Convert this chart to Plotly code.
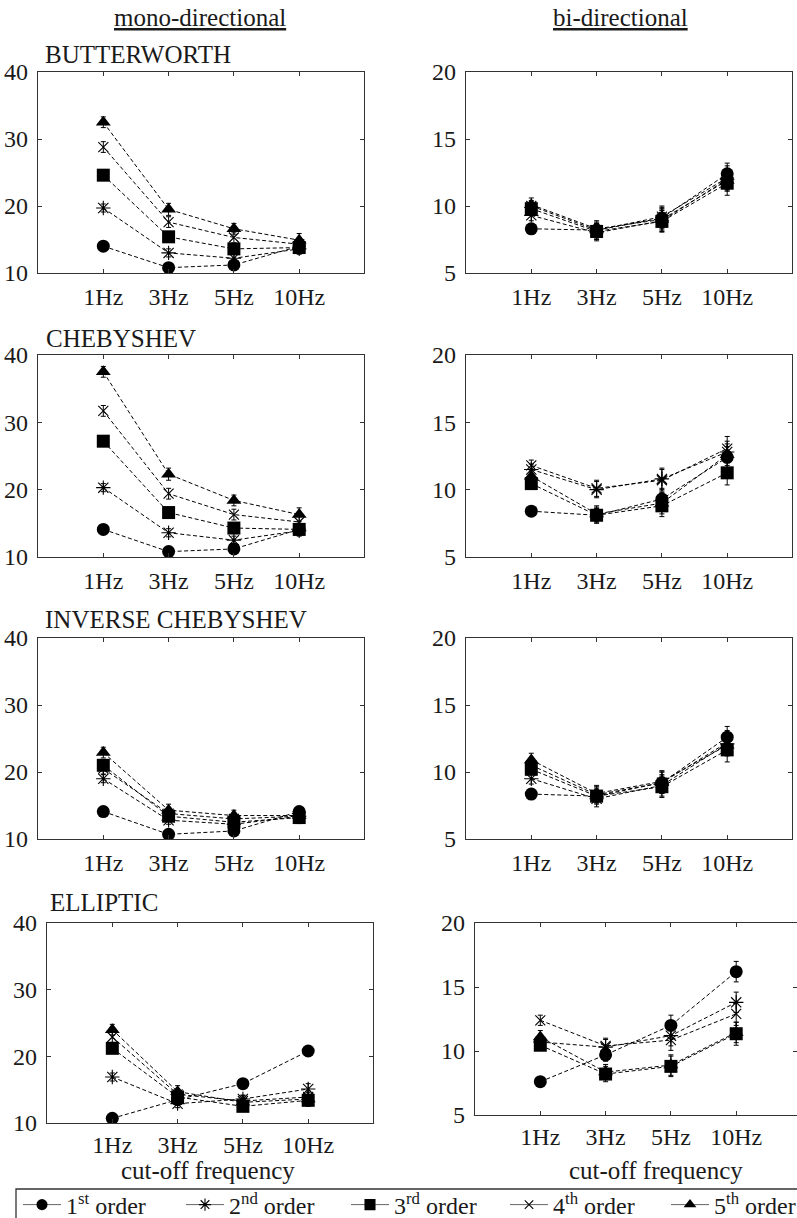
import plotly.graph_objects as go

W, H = 797, 1218
SERIF = "Liberation Serif"

FREQS = ["1Hz", "3Hz", "5Hz", "10Hz"]
ORDER_LABELS = ["1<sup>st</sup> order", "2<sup>nd</sup> order", "3<sup>rd</sup> order",
                "4<sup>th</sup> order", "5<sup>th</sup> order"]
FILTERS = ["BUTTERWORTH", "CHEBYSHEV", "INVERSE CHEBYSHEV", "ELLIPTIC"]

# Mean values: one row per filter order (1st..5th), one column per cut-off frequency
butterworth_mono = [
    [14.0, 10.8, 11.2, 14.0],
    [19.7, 13.0, 12.2, 13.6],
    [24.6, 15.4, 13.6, 13.8],
    [28.8, 17.6, 15.3, 14.3],
    [32.5, 19.5, 16.6, 14.9],
]
chebyshev_mono = [
    [14.1, 10.8, 11.2, 14.1],
    [20.3, 13.6, 12.5, 13.9],
    [27.2, 16.6, 14.3, 14.1],
    [31.7, 19.4, 16.3, 15.2],
    [37.5, 22.3, 18.4, 16.3],
]
inv_chebyshev_mono = [
    [14.1, 10.7, 11.2, 14.1],
    [19.0, 12.8, 12.2, 13.4],
    [21.0, 13.4, 12.5, 13.2],
    [20.5, 13.8, 13.0, 13.4],
    [22.9, 14.3, 13.5, 13.5],
]
elliptic_mono = [
    [10.7, 13.5, 15.9, 20.8],
    [16.9, 12.9, 13.6, 15.1],
    [21.2, 13.9, 12.5, 13.4],
    [22.9, 14.3, 13.3, 13.9],
    [24.0, 14.7, 13.1, 13.6],
]

butterworth_bi = [
    [8.3, 8.2, 9.1, 12.4],
    [9.3, 8.0, 8.9, 12.0],
    [9.8, 8.1, 8.85, 11.7],
    [10.0, 8.2, 9.2, 12.1],
    [10.1, 8.3, 9.0, 11.9],
]
chebyshev_bi = [
    [8.4, 8.1, 9.3, 12.4],
    [11.5, 10.0, 10.8, 12.8],
    [10.45, 8.1, 8.8, 11.25],
    [11.8, 10.1, 10.7, 13.05],
    [11.0, 8.2, 9.0, 12.6],
]
inv_chebyshev_bi = [
    [8.35, 8.2, 9.2, 12.6],
    [9.5, 8.0, 9.0, 12.1],
    [10.2, 8.2, 8.9, 11.65],
    [10.5, 8.3, 9.2, 12.2],
    [10.9, 8.4, 9.3, 12.0],
]
elliptic_bi = [
    [7.6, 9.7, 12.0, 16.2],
    [10.7, 10.3, 11.2, 13.8],
    [10.45, 8.2, 8.8, 11.35],
    [12.4, 10.4, 10.85, 12.9],
    [11.1, 8.35, 8.9, 11.45],
]

# Error bar half-lengths (same layout as the means)
mono_err = [
    [0.5, 0.5, 0.6, 0.7],
    [0.6, 0.6, 0.6, 0.8],
    [0.7, 0.7, 0.7, 0.9],
    [0.8, 0.8, 0.8, 0.9],
    [0.8, 0.9, 0.8, 1.0],
]
bi_err = [
    [0.3, 0.5, 0.8, 0.8],
    [0.4, 0.6, 0.8, 0.8],
    [0.4, 0.6, 0.8, 0.9],
    [0.4, 0.6, 0.8, 0.9],
    [0.5, 0.6, 0.8, 0.8],
]

MONO = [butterworth_mono, chebyshev_mono, inv_chebyshev_mono, elliptic_mono]
BI = [butterworth_bi, chebyshev_bi, inv_chebyshev_bi, elliptic_bi]

SYMBOLS = ["circle", "asterisk-open", "square", "x-thin-open", "triangle-up"]
SIZES = [13, 12, 13, 10, 13]

# Panel boxes in pixels: (left, right, top, bottom)
MONO_BOX = [(38, 364, 72, 273), (38, 364, 355, 557), (38, 364, 638, 839), (47, 373, 923, 1123)]
BI_BOX = [(466, 792, 72, 273), (466, 792, 355, 557), (466, 792, 638, 839), (475, 797, 923, 1115)]


def px_x(v):
    return v / W


def px_y(v):
    return 1 - v / H


def marker_for(k, size_scale=1.0):
    sym = SYMBOLS[k]
    open_sym = sym.endswith("open")
    return dict(symbol=sym, size=SIZES[k] * size_scale, color="black",
                line=dict(color="black", width=1.1 if open_sym else 0))


fig = go.Figure()
layout = {}
ax = 0
for row in range(4):
    for col, (data, box, yr, yt) in enumerate([
        (MONO[row], MONO_BOX[row], [10, 40], [10, 20, 30, 40]),
        (BI[row], BI_BOX[row], [5, 20], [5, 10, 15, 20]),
    ]):
        ax += 1
        xs = "x" if ax == 1 else f"x{ax}"
        ys = "y" if ax == 1 else f"y{ax}"
        err = mono_err if col == 0 else bi_err
        for k in range(5):
            fig.add_trace(go.Scatter(
                x=FREQS, y=data[k], mode="lines+markers",
                line=dict(color="black", width=1, dash="4px,2.5px"),
                marker=marker_for(k),
                error_y=dict(type="data", array=err[k], color="black",
                             thickness=1, width=2.5),
                xaxis=xs, yaxis=ys, showlegend=False, hoverinfo="skip",
            ))
        l, r, t, b = box
        span = (r - l) / 65.3
        axis_common = dict(
            showline=True, linecolor="#333", linewidth=1.3, mirror="ticks",
            ticks="inside", ticklen=4, tickwidth=1, tickcolor="#333",
            showgrid=False, zeroline=False,
            tickfont=dict(family=SERIF, size=24, color="#1a1a1a"),
        )
        layout["xaxis" if ax == 1 else f"xaxis{ax}"] = dict(
            axis_common, domain=[px_x(l), px_x(r)], anchor=ys,
            type="category", categoryorder="array", categoryarray=FREQS,
            range=[-1, -1 + span], ticklabelstandoff=0 if row == 3 else 2,
        )
        layout["yaxis" if ax == 1 else f"yaxis{ax}"] = dict(
            axis_common, domain=[px_y(b), px_y(t)], anchor=xs,
            range=yr, tickvals=yt, ticklabelstandoff=4,
        )

# Legend entries (solid sample lines)
LEG_X = [20, 183, 348, 507, 668]
for k in range(5):
    lname = "legend" if k == 0 else f"legend{k + 1}"
    fig.add_trace(go.Scatter(
        x=[None], y=[None], mode="lines+markers", name=ORDER_LABELS[k],
        line=dict(color="#666", width=1), marker=marker_for(k, 0.85),
        legend=lname, showlegend=True, xaxis="x", yaxis="y",
    ))
    layout[lname] = dict(
        x=px_x(LEG_X[k] - 2), y=px_y(1205), xanchor="left", yanchor="middle",
        bgcolor="rgba(0,0,0,0)", borderwidth=0, itemwidth=38,
        font=dict(family=SERIF, size=24, color="#1a1a1a"),
        itemclick=False, itemdoubleclick=False,
    )

annotations = [
    dict(text="<u>mono-directional</u>", x=px_x(200), y=px_y(18)),
    dict(text="<u>bi-directional</u>", x=px_x(620), y=px_y(18)),
    dict(text="cut-off frequency", x=px_x(208), y=px_y(1170)),
    dict(text="cut-off frequency", x=px_x(656), y=px_y(1170)),
]
for name, (xl, yc) in zip(FILTERS, [(43, 54), (44, 338), (43, 619), (48, 902)]):
    annotations.append(dict(text=name, x=px_x(xl), y=px_y(yc), xanchor="left"))
for a in annotations:
    a.update(xref="paper", yref="paper", showarrow=False, yanchor="middle",
             font=dict(family=SERIF, size=25, color="#1a1a1a"))
    a.setdefault("xanchor", "center")

fig.update_layout(
    template="none",
    font=dict(family=SERIF, size=24, color="#1a1a1a"),
    width=W, height=H, margin=dict(l=0, r=0, t=0, b=0, autoexpand=False),
    paper_bgcolor="white", plot_bgcolor="white",
    annotations=annotations,
    shapes=[dict(type="rect", xref="paper", yref="paper",
                 x0=px_x(16), x1=px_x(830), y0=px_y(1189), y1=px_y(1260),
                 line=dict(color="#333", width=1.3))],
    **layout,
)

fig.write_html("out.html")
